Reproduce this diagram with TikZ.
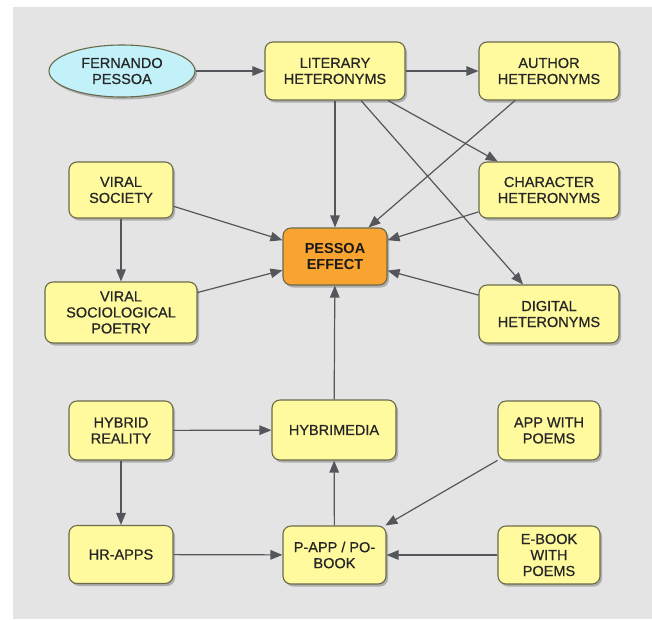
\documentclass[tikz,border=0pt]{standalone}
\usepackage{fontspec}
\setmainfont{Liberation Sans}
\newfontfamily\heavyfont{Liberation Sans}[FakeBold=0.7]
\usetikzlibrary{arrows.meta,shapes.geometric,shadows}
\definecolor{bg}{HTML}{E4E4E4}
\definecolor{boxfill}{HTML}{FFFA9E}
\definecolor{boxline}{HTML}{6A6A4A}
\definecolor{ellfill}{HTML}{C2F1FA}
\definecolor{orangefill}{HTML}{F9A431}
\definecolor{edgecol}{HTML}{55565C}
\definecolor{txt}{HTML}{262626}
\tikzset{
  boxbase/.style={draw=boxline, line width=1.1pt, align=center, inner sep=2pt,
    font=\heavyfont\fontsize{14.5}{16}\selectfont, text=txt,
    drop shadow={shadow xshift=2pt, shadow yshift=-2.5pt, opacity=0.35, fill=black!70}},
  concept/.style={boxbase, rectangle, rounded corners=8pt, fill=boxfill},
  centerbox/.style={boxbase, rectangle, rounded corners=8pt, fill=orangefill,
    font=\fontsize{14.5}{16}\selectfont\bfseries, text=black!90},
  origin/.style={boxbase, ellipse, fill=ellfill, inner sep=0pt},
  link/.style={draw=edgecol, line width=1.2pt, -{Triangle[length=12pt,width=9.5pt]}}
}
\begin{document}
\begin{tikzpicture}[x=1pt,y=-1pt]
\useasboundingbox (0,0) rectangle (652,619);
\fill[white] (0,0) rectangle (652,619);
\fill[bg] (12.5,7) rectangle (652,619);

\node[origin, minimum width=146pt, minimum height=52pt] (fp) at (122,71) {FERNANDO\\PESSOA};
\node[concept, minimum width=140pt, minimum height=58pt] (lit) at (335,71) {LITERARY\\HETERONYMS};
\node[concept, minimum width=140pt, minimum height=58pt] (auth) at (549,71) {AUTHOR\\HETERONYMS};
\node[concept, minimum width=104pt, minimum height=56pt] (vs) at (121,190) {VIRAL\\SOCIETY};
\node[concept, minimum width=140pt, minimum height=56pt] (char) at (549,190) {CHARACTER\\HETERONYMS};
\node[centerbox, minimum width=104pt, minimum height=57pt] (pe) at (335,256.5) {PESSOA\\EFFECT};
\node[concept, minimum width=152pt, minimum height=61pt] (vsp) at (121,312.5) {VIRAL\\SOCIOLOGICAL\\POETRY};
\node[concept, minimum width=140pt, minimum height=58pt] (dig) at (549,314) {DIGITAL\\HETERONYMS};
\node[concept, minimum width=104pt, minimum height=59pt] (hr) at (121,430.5) {HYBRID\\REALITY};
\node[concept, minimum width=124pt, minimum height=60pt] (hm) at (334,430) {HYBRIMEDIA};
\node[concept, minimum width=102pt, minimum height=59pt] (awp) at (549,430.5) {APP WITH\\POEMS};
\node[concept, minimum width=104pt, minimum height=58pt] (hra) at (121,554.5) {HR-APPS};
\node[concept, minimum width=103pt, minimum height=58pt] (papp) at (334.5,555) {P-APP / PO-\\BOOK};
\node[concept, minimum width=102pt, minimum height=58pt] (eb) at (549,555) {E-BOOK\\WITH\\POEMS};

\draw[link] (fp) -- (lit);
\draw[link] (lit) -- (auth);
\draw[link] (lit) -- (pe);
\draw[link] (lit) -- (char);
\draw[link] (lit) -- (dig);
\draw[link] (auth) -- (pe);
\draw[link] (char) -- (pe);
\draw[link] (dig) -- (pe);
\draw[link] (vs) -- (pe);
\draw[link] (vs) -- (vsp);
\draw[link] (vsp) -- (pe);
\draw[link] (hm) -- (pe);
\draw[link] (hr) -- (hm);
\draw[link] (hr) -- (hra);
\draw[link] (hra) -- (papp);
\draw[link] (papp) -- (hm);
\draw[link] (awp) -- (papp);
\draw[link] (eb) -- (papp);
\end{tikzpicture}
\end{document}
